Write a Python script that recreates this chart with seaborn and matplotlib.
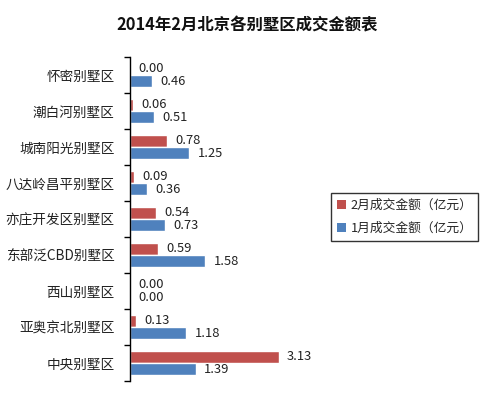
import matplotlib
matplotlib.use("Agg")
import matplotlib.pyplot as plt
from matplotlib.ticker import FixedLocator
from matplotlib.patches import Patch
import seaborn as sns
import pandas as pd
import numpy as np

categories = ["怀密别墅区", "潮白河别墅区", "城南阳光别墅区", "八达岭昌平别墅区",
              "亦庄开发区别墅区", "东部泛CBD别墅区", "西山别墅区", "亚奥京北别墅区", "中央别墅区"]
feb_values = [0.00, 0.06, 0.78, 0.09, 0.54, 0.59, 0.00, 0.13, 3.13]
jan_values = [0.46, 0.51, 1.25, 0.36, 0.73, 1.58, 0.00, 1.18, 1.39]
series_names = ["2月成交金额（亿元）", "1月成交金额（亿元）"]
title = "2014年2月北京各别墅区成交金额表"

sns.set_theme(style="white")
plt.rcParams['font.family'] = ['Noto Sans CJK SC', 'DejaVu Sans']

df = pd.DataFrame({
    "区域": categories * 2,
    "金额": feb_values + jan_values,
    "系列": [series_names[0]] * len(categories) + [series_names[1]] * len(categories),
})

fig = plt.figure(figsize=(4.95, 3.96), dpi=100)
ax = fig.add_axes([130/495, 1-381/396, 190/495, 324/396])

palette = {series_names[0]: "#C0504D", series_names[1]: "#4F81BD"}
sns.barplot(data=df, y="区域", x="金额", hue="系列", order=categories,
            hue_order=series_names, palette=palette, orient="h", width=0.68,
            gap=0, saturation=1, ax=ax, legend=False, errorbar=None)

for cont in ax.containers:
    ax.bar_label(cont, fmt="%.2f", padding=6, fontsize=9.3, color="#222222")

ax.set_xlim(0, 4.0)
ax.set_ylim(len(categories) - 0.5, -0.5)
ax.set_xlabel("")
ax.set_ylabel("")
ax.xaxis.set_visible(False)
for s in ["top", "right", "bottom"]:
    ax.spines[s].set_visible(False)
ax.spines["left"].set_color("#000000")
ax.spines["left"].set_linewidth(1.0)

ax.yaxis.set_minor_locator(FixedLocator(np.arange(-0.5, len(categories), 1.0)))
ax.tick_params(axis="y", which="major", length=0, pad=11, labelsize=9.8, labelcolor="#222222")
ax.tick_params(axis="y", which="minor", length=4, width=1, color="#000000", left=True)

fig.text(0.5, 1-25/396, title, ha="center", va="center", fontsize=11.8, fontweight="bold", color="#111111")

handles = [Patch(facecolor=palette[n], edgecolor="none") for n in series_names]
leg = fig.legend(handles, series_names, loc="center",
                 bbox_to_anchor=((334+475)/2/495, 1-217/396),
                 frameon=True, fancybox=False, fontsize=9.2,
                 handlelength=0.75, handleheight=0.75, handletextpad=0.35,
                 borderpad=0.45, borderaxespad=0, labelspacing=0.8)
leg.get_frame().set_edgecolor("#000000")
leg.get_frame().set_linewidth(1.0)

fig.savefig("out.png", dpi=100)
